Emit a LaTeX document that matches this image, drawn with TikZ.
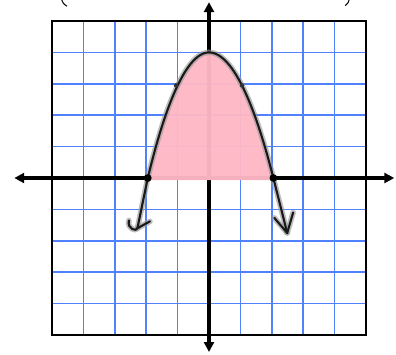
\documentclass[tikz,border=0pt]{standalone}
\usetikzlibrary{arrows.meta,calc}
\definecolor{gridblue}{RGB}{80,130,255}
\definecolor{fillpink}{RGB}{255,184,198}
\tikzset{
  gridline/.style={gridblue, line width=1.5pt},
  axisline/.style={black, line width=3.4pt, {Triangle[length=9pt,width=9pt]}-{Triangle[length=9pt,width=9pt]}},
  halo/.style={gray!80, line width=5pt, opacity=0.65, line cap=round, line join=round},
  ink/.style={black!90, line width=1.9pt, line cap=round, line join=round},
  dotpt/.style={circle, fill=black, inner sep=0pt, minimum size=7pt},
}
\begin{document}
\begin{tikzpicture}[x=1cm,y=1cm]
\useasboundingbox (-6.656,-5.605) rectangle (5.955,5.669);
\fill[white] (-6.656,-5.605) rectangle (5.955,5.669);
% grid
\foreach \i in {-4,...,4} {
  \draw[gridline] (\i,-5) -- (\i,5);
  \draw[gridline] (-5,\i) -- (5,\i);
}
\draw[black, line width=2.6pt] (-5,-5) rectangle (5,5);
% parenthesis fragments
\draw[black, line width=0.9pt] (-4.70,5.70) .. controls (-4.64,5.55) .. (-4.52,5.47);
\draw[black, line width=0.9pt] (4.47,5.70) .. controls (4.43,5.57) .. (4.34,5.49);
% axes
\coordinate (xl) at (-6.2,0);
\coordinate (xr) at (5.9,0);
\coordinate (yt) at (0,5.6);
\coordinate (yb) at (0,-5.54);
\draw[axisline] (xl) -- (xr);
\draw[axisline] (yb) -- (yt);
% curve
\coordinate (L) at (-1.95,0);
\coordinate (R) at (2.05,0);
\coordinate (V) at (0,4);
\coordinate (Ltip) at (-2.28,-1.6);
\coordinate (Rtip) at (2.49,-1.75);
% filled region (over the axes, as in the reference)
\fill[fillpink, opacity=0.96] (L) parabola bend (V) (R) -- ++(0,-0.07) -- ($(L)+(0,-0.07)$) -- cycle;
\draw[halo] (L) parabola bend (V) (R);
\draw[ink] (L) parabola bend (V) (R);
\draw[halo] (L) -- (Ltip);
\draw[halo] (-2.55,-1.35) .. controls (-2.62,-1.62) and (-2.3,-1.72) .. (Ltip) -- (-1.88,-1.38);
\draw[halo] (R) -- (Rtip);
\draw[halo] (2.08,-1.27) -- (Rtip) -- (2.68,-1.1);
\draw[ink] (L) -- (Ltip);
\draw[ink] (-2.55,-1.35) .. controls (-2.62,-1.62) and (-2.3,-1.72) .. (Ltip) -- (-1.88,-1.38);
\draw[ink] (R) -- (Rtip);
\draw[ink] (2.08,-1.27) -- (Rtip) -- (2.68,-1.1);
% points
\node[dotpt] (pL) at (L) {};
\node[dotpt] (pR) at (R) {};
\node[circle, fill=black!80, inner sep=0pt, minimum size=4pt] (p1) at (-1.05,2.95) {};
\node[circle, fill=black!80, inner sep=0pt, minimum size=4pt] (p2) at (1.05,2.95) {};
\end{tikzpicture}
\end{document}
